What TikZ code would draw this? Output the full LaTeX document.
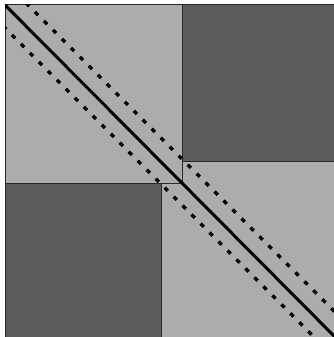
\documentclass[tikz,border=0pt]{standalone}
\definecolor{lightg}{RGB}{172,172,172}
\definecolor{darkg}{RGB}{92,92,92}
\definecolor{edge}{RGB}{40,40,40}
\tikzset{
  edgeline/.style={draw=edge, line width=1pt},
  solidline/.style={draw=black, line width=3pt},
  dotline/.style={draw=black, line width=3.2pt, dash pattern=on 4.5pt off 8.2pt}
}
\begin{document}
\begin{tikzpicture}[x=1pt,y=-1pt]
\useasboundingbox (0,0) rectangle (334,337);
\fill[white] (0,0) rectangle (334,337);
\begin{scope}
\clip (5,5) rectangle (334,337);
\fill[lightg] (5,5) rectangle (334,337);
\fill[darkg] (182,5) rectangle (334,161);
\fill[darkg] (5,183) rectangle (161,337);
\draw[edgeline] (182,5) -- (182,183) -- (5,183);
\draw[edgeline] (161,337) -- (161,183);
\draw[edgeline] (182,161) -- (334,161);
\draw[edgeline] (5,337) -- (5,5) -- (334,5);
\coordinate (s1) at (5,5);
\coordinate (s2) at (337,339);
\coordinate (u1) at (26,3);
\coordinate (u2) at (340,317);
\coordinate (l1) at (3,26);
\coordinate (l2) at (317,340);
\draw[solidline] (s1) -- (s2);
\draw[dotline] (u1) -- (u2);
\draw[dotline] (l1) -- (l2);
\end{scope}
\end{tikzpicture}
\end{document}
